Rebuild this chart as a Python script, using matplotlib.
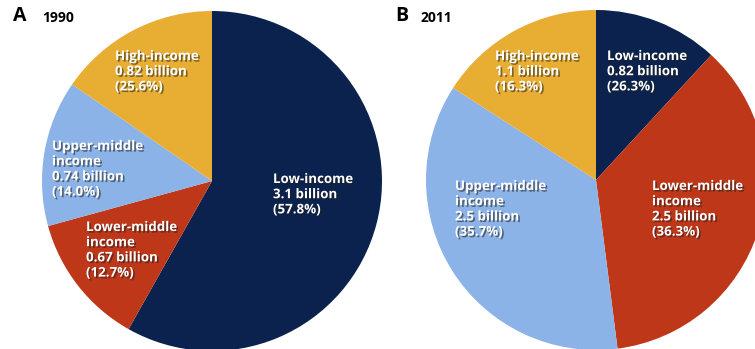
import matplotlib
matplotlib.use("Agg")
import matplotlib.pyplot as plt
import matplotlib.patheffects as pe

plt.rcParams['font.family'] = ['Open Sans', 'DejaVu Sans']

# population by income group, billions (clockwise from 12 o'clock)
groups = ['Low-income', 'Lower-middle\nincome', 'Upper-middle\nincome', 'High-income']
pop_1990 = [3.1, 0.67, 0.74, 0.82]
pct_1990 = ['57.8%', '12.7%', '14.0%', '25.6%']
pop_2011 = [0.82, 2.5, 2.5, 1.1]
pct_2011 = ['26.3%', '36.3%', '35.7%', '16.3%']
colors = ['#0b224e', '#bf3719', '#8cb3e7', '#e8ad33']

# label anchors (pixels from top-left), same order as groups
pos_1990 = [(273, 173), (86, 221), (52, 140), (115, 50)]
pos_2011 = [(607, 50), (652, 180), (455, 180), (495, 50)]

W, H = 755, 349
fig = plt.figure(figsize=(W / 100, H / 100), dpi=100)
ax = fig.add_axes([0, 0, 1, 1])

shadow = [pe.SimplePatchShadow(offset=(1.2, -1.2), shadow_rgbFace='#202020', alpha=0.55),
          pe.Normal()]


def draw_pie(vals, pcts, pos, center):
    ax.pie(vals, colors=colors, startangle=90, counterclock=False,
           center=center, radius=170, wedgeprops=dict(linewidth=0))
    for g, v, p, (x, y) in zip(groups, vals, pcts, pos):
        label = f'{g}\n{v:g} billion\n({p})'
        ax.text(x, H - y, label, color='white', fontsize=9.6, fontweight='bold',
                ha='left', va='top', linespacing=1.22, path_effects=shadow)


draw_pie(pop_1990, pct_1990, pos_1990, (212, H - 181))
draw_pie(pop_2011, pct_2011, pos_2011, (596, H - 180))

ax.set_xlim(0, W)
ax.set_ylim(0, H)
ax.set_aspect('equal')
ax.axis('off')

ax.text(13, H - 16, 'A', fontsize=14, fontweight='bold', va='center', ha='left')
ax.text(42, H - 18, '1990', fontsize=10, fontweight='bold', va='center', ha='left')
ax.text(395, H - 16, 'B', fontsize=14, fontweight='bold', va='center', ha='left')
ax.text(421, H - 18, '2011', fontsize=10, fontweight='bold', va='center', ha='left')

fig.savefig('out.png', dpi=100)
